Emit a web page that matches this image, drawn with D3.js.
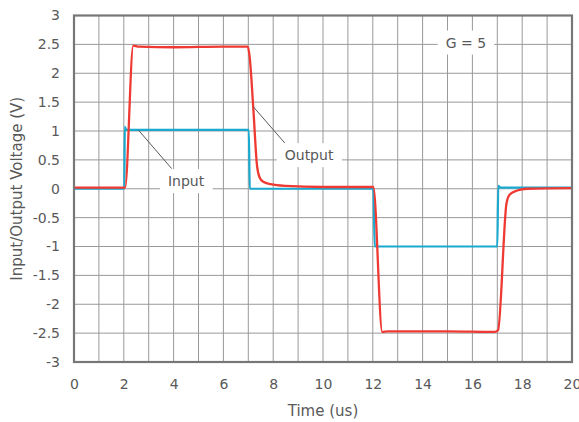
<!DOCTYPE html>
<html>
<head>
<meta charset="utf-8">
<script src="https://cdn.jsdelivr.net/npm/d3@7"></script>
<style>
  body { margin: 0; background: #fff; }
  svg text { font-family: "DejaVu Sans", Verdana, sans-serif; fill: #595959; }
</style>
</head>
<body>
<div id="chart"></div>
<script>
// tick values
const xTicks = [0, 2, 4, 6, 8, 10, 12, 14, 16, 18, 20];
const xGrid = d3.range(0, 21, 1);
const yTicks = [-3, -2.5, -2, -1.5, -1, -0.5, 0, 0.5, 1, 1.5, 2, 2.5, 3];

// Input step (t in us, V)
const inputT = [0, 2.02, 2.04, 2.1, 7.02, 7.06, 12.02, 12.08, 17.0, 17.04, 17.12, 20];
const inputV = [0, 0, 1.07, 1.02, 1.02, 0, 0, -1.0, -1.0, 0.05, 0.02, 0.02];

// Output (G = 5)
const outputT = [0, 2.05, 2.38, 2.6, 4, 6, 6.98, 7.05, 7.2, 7.35, 7.45, 7.6, 7.9, 8.5, 10, 12.02,
  12.38, 12.6, 15, 16.9, 17.03, 17.37, 17.5, 17.8, 18.2, 20];
const outputV = [0.02, 0.02, 2.48, 2.46, 2.45, 2.46, 2.46, 2.3, 1.4, 0.4, 0.2, 0.12, 0.08, 0.05, 0.03, 0.03,
  -2.48, -2.47, -2.47, -2.48, -2.45, -0.25, -0.1, -0.03, 0.0, 0.01];

// labels: text, label centre (t, V), leader from / to
const noteText = ["Input", "Output", "G = 5"];
const noteAt = [[4.5, 0.13], [9.44, 0.58], [15.74, 2.53]];
const noteLine = [[[2.58, 1.02], [3.92, 0.35]], [[7.2, 1.42], [8.47, 0.79]], null];

const margin = {top: 15.5, right: 7, bottom: 60, left: 74},
    width = 579 - margin.left - margin.right,
    height = 422 - margin.top - margin.bottom;

const svg = d3.select("#chart").append("svg")
    .attr("width", 579)
    .attr("height", 422);
const g = svg.append("g").attr("transform", `translate(${margin.left},${margin.top})`);

const x = d3.scaleLinear().domain([0, 20]).range([0, width]);
const y = d3.scaleLinear().domain([-3, 3]).range([height, 0]);

// grid
g.append("g").selectAll("line").data(xGrid).enter().append("line")
    .attr("x1", d => x(d)).attr("x2", d => x(d))
    .attr("y1", 0).attr("y2", height)
    .attr("stroke", "#999").attr("stroke-width", 1);
g.append("g").selectAll("line").data(yTicks).enter().append("line")
    .attr("x1", 0).attr("x2", width)
    .attr("y1", d => y(d)).attr("y2", d => y(d))
    .attr("stroke", "#999").attr("stroke-width", 1);

// axes
const xAxis = g.append("g")
    .attr("transform", `translate(0,${height})`)
    .call(d3.axisBottom(x).tickValues(xTicks).tickSize(0).tickPadding(17).tickFormat(d3.format("d")));
const yAxis = g.append("g")
    .call(d3.axisLeft(y).tickValues(yTicks).tickSize(0).tickPadding(14).tickFormat(d => String(d)));
[xAxis, yAxis].forEach(a => {
    a.select(".domain").remove();
    a.selectAll("text").style("font-size", "14px").attr("fill", "#595959");
});

// series
const line = d3.line().x(d => x(d[0])).y(d => y(d[1])).curve(d3.curveMonotoneX);
g.append("path")
    .datum(inputT.map((t, i) => [t, inputV[i]]))
    .attr("fill", "none").attr("stroke", "#1aa9cf").attr("stroke-width", 2.2)
    .attr("d", line);
g.append("path")
    .datum(outputT.map((t, i) => [t, outputV[i]]))
    .attr("fill", "none").attr("stroke", "#ee3a33").attr("stroke-width", 2.3)
    .attr("d", line);

// annotations
noteText.forEach((txt, i) => {
    if (noteLine[i]) {
        g.append("line")
            .attr("x1", x(noteLine[i][0][0])).attr("y1", y(noteLine[i][0][1]))
            .attr("x2", x(noteLine[i][1][0])).attr("y2", y(noteLine[i][1][1]))
            .attr("stroke", "#595959").attr("stroke-width", 1);
    }
    const t = g.append("text")
        .attr("x", x(noteAt[i][0])).attr("y", y(noteAt[i][1]))
        .attr("text-anchor", "middle").attr("dy", "0.35em")
        .style("font-size", "14px")
        .text(txt);
    const bb = t.node().getBBox();
    g.insert("rect", function () { return t.node(); })
        .attr("x", bb.x - 8).attr("y", bb.y - 4)
        .attr("width", bb.width + 16).attr("height", bb.height + 8)
        .attr("fill", "#fff");
});

// frame
g.append("rect")
    .attr("width", width).attr("height", height)
    .attr("fill", "none").attr("stroke", "#777").attr("stroke-width", 2.2);

// titles
svg.append("text")
    .attr("x", margin.left + width / 2).attr("y", 416)
    .attr("text-anchor", "middle").style("font-size", "15px")
    .text("Time (us)");
svg.append("text")
    .attr("transform", `translate(22,${margin.top + height / 2}) rotate(-90)`)
    .attr("text-anchor", "middle").style("font-size", "15px")
    .text("Input/Output Voltage (V)");
</script>
</body>
</html>
